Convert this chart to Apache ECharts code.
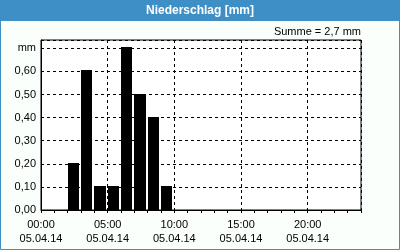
<!DOCTYPE html>
<html><head><meta charset="utf-8">
<script src="https://cdn.jsdelivr.net/npm/echarts@6/dist/echarts.min.js"></script>
<style>html,body{margin:0;padding:0;background:#fff}#c{width:400px;height:250px}</style>
</head><body><div id="c"></div>
<script>
var titleText = 'Niederschlag [mm]';
var sumText = 'Summe = 2,7 mm';
var dateLabel = '05.04.14';
var hours = [2, 3, 4, 5, 6, 7, 8, 9];
var precip = [0.2, 0.6, 0.1, 0.1, 0.7, 0.5, 0.4, 0.1];
var yTicks = [0, 0.1, 0.2, 0.3, 0.4, 0.5, 0.6, 0.7];
var yUnitLabel = 'mm';
var xLabelHours = [0, 5, 10, 15, 20];

var font = 'Liberation Sans';
var chart = echarts.init(document.getElementById('c'), null, {renderer: 'canvas'});
var data = hours.map(function (h, i) { return [h, precip[i]]; });

chart.setOption({
  animation: false,
  backgroundColor: '#fafffb',
  graphic: [
    {type: 'rect', shape: {x: 0.5, y: 0.5, width: 399, height: 249}, style: {fill: 'none', stroke: '#3d8fc6', lineWidth: 1}, z: 0, zlevel: 0},
    {type: 'rect', shape: {x: 0, y: 0, width: 400, height: 21}, style: {fill: '#3d8fc6'}, z: 0, zlevel: 0}
  ],
  title: [
    {text: titleText, left: 'center', top: 0, z: 20, textStyle: {color: '#fff', fontFamily: font, fontWeight: 'bold', fontSize: 12, lineHeight: 12}},
    {text: sumText, right: 34, top: 21, z: 20, textStyle: {color: '#000', fontFamily: font, fontWeight: 'normal', fontSize: 11}}
  ],
  grid: {left: 41, right: 39, top: 40, bottom: 40, show: true, backgroundColor: '#fff', borderColor: '#000', borderWidth: 1},
  xAxis: [{
    type: 'value', min: 0, max: 24, interval: 5,
    axisLine: {show: true, lineStyle: {color: '#000', width: 1}},
    axisTick: {show: false},
    splitLine: {show: true, lineStyle: {color: '#000', type: [3, 3], width: 1}},
    axisLabel: {
      fontFamily: font, fontSize: 11, color: '#000', lineHeight: 14, margin: 8,
      showMaxLabel: false,
      formatter: function (v) {
        if (xLabelHours.indexOf(v) < 0) return '';
        return (v < 10 ? '0' : '') + v + ':00\n' + dateLabel;
      }
    }
  }, {
    type: 'value', min: 0, max: 24, interval: 1, position: 'bottom',
    axisLine: {show: false},
    axisTick: {show: true, length: 3, lineStyle: {color: '#000'}},
    axisLabel: {show: false}, splitLine: {show: false}
  }],
  yAxis: {
    type: 'value', min: 0, max: 0.736, interval: 0.1,
    axisLine: {show: true, lineStyle: {color: '#000'}},
    axisTick: {show: false},
    splitLine: {show: true, lineStyle: {color: '#000', type: [3, 3], width: 1}},
    axisLabel: {
      fontFamily: font, fontSize: 11, color: '#000', margin: 5, showMaxLabel: false,
      formatter: function (v) {
        var r = Math.round(v * 10) / 10;
        if (Math.abs(r - v) > 1e-6) return '';
        if (Math.abs(r - yTicks[yTicks.length - 1]) < 1e-6) return yUnitLabel;
        return r.toFixed(2).replace('.', ',');
      }
    }
  },
  series: [{
    type: 'custom',
    data: data,
    z: 10,
    silent: true,
    renderItem: function (params, api) {
      var h = api.value(0), v = api.value(1);
      var p0 = api.coord([h, v]);
      var p1 = api.coord([h + 1, 0]);
      var x0 = Math.round(p0[0]);
      var x1 = Math.round(p1[0]) - 2;
      var y0 = Math.round(p0[1]) - 1;
      var y1 = Math.round(p1[1]);
      return {type: 'rect', shape: {x: x0, y: y0, width: x1 - x0, height: y1 - y0}, style: {fill: '#000', stroke: null, lineWidth: 0}};
    }
  }]
});
</script></body></html>
